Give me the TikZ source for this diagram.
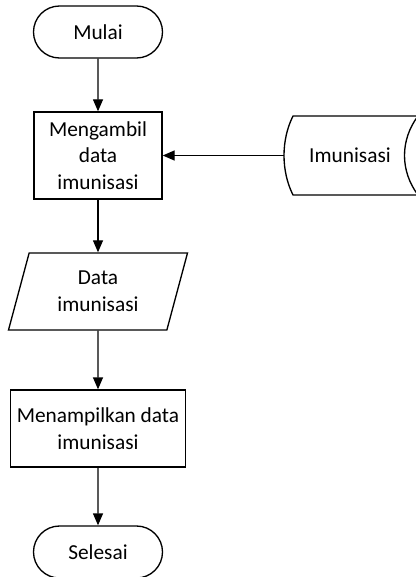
\documentclass[tikz,border=0pt]{standalone}
\usepackage{fontspec}
\setmainfont{Carlito}
\usepackage{tikz}
\usetikzlibrary{arrows.meta,shapes.geometric,shapes.misc}

\begin{document}
\begin{tikzpicture}[x=0.75pt, y=-0.75pt,
    every node/.style={font=\fontsize{16}{20}\selectfont, align=center, inner sep=0pt},
    line/.style={draw=black, line width=1pt},
    arrow/.style={line, -{Triangle[length=9pt, width=7.5pt]}},
    terminal/.style={line, rounded rectangle, minimum width=96.75pt, minimum height=39pt},
    process/.style={line, rectangle, minimum width=96pt, minimum height=65.25pt},
    iobox/.style={line, trapezium, trapezium left angle=63, trapezium right angle=117,
        trapezium stretches body, minimum width=134.25pt, minimum height=57.75pt}]
    \useasboundingbox (0,0) rectangle (416,577);

    % Flow
    \node[terminal] (mulai) at (98,32) {Mulai};
    \node[process] (ambil) at (98,155.5) {Mengambil\\data\\imunisasi};
    \node[iobox] (data) at (98,291.5) {Data\\imunisasi};
    \node[process, minimum width=131.25pt, minimum height=57.75pt] (tampil) at (98,428.5)
        {Menampilkan data\\imunisasi};
    \node[terminal] (selesai) at (98,552) {Selesai};

    % Stored data
    \node[minimum width=99pt, minimum height=59.25pt] (imun) at (350,155.5) {Imunisasi};
    \draw[line] (293,116) -- (418,116) .. controls (400,140) and (400,171) .. (418,195)
        -- (293,195) .. controls (281,171) and (281,140) .. (293,116) -- cycle;

    % Arrows
    \draw[arrow] (mulai) -- (ambil);
    \draw[arrow] (imun) -- (ambil);
    \draw[arrow] (ambil) -- (data);
    \draw[arrow] (data) -- (tampil);
    \draw[arrow] (tampil) -- (selesai);
\end{tikzpicture}
\end{document}
